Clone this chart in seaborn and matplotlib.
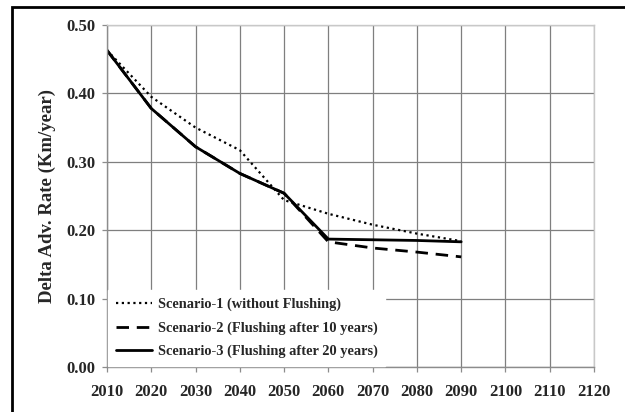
import matplotlib
matplotlib.use("Agg")
import matplotlib.pyplot as plt
import seaborn as sns
import pandas as pd
from matplotlib.patches import Rectangle

years = [2010, 2020, 2030, 2040, 2050, 2060, 2070, 2080, 2090]
scenario1 = [0.463, 0.395, 0.350, 0.317, 0.244, 0.224, 0.208, 0.195, 0.184]
scenario2 = [0.463, 0.378, 0.322, 0.283, 0.254, 0.183, 0.174, 0.168, 0.161]
scenario3 = [0.463, 0.378, 0.322, 0.283, 0.254, 0.187, 0.186, 0.185, 0.183]
labels = ["Scenario-1 (without Flushing)",
          "Scenario-2 (Flushing after 10 years)",
          "Scenario-3 (Flushing after 20 years)"]
x_ticks = list(range(2010, 2121, 10))
y_ticks = [0.0, 0.1, 0.2, 0.3, 0.4, 0.5]
y_label = "Delta Adv. Rate (Km/year)"

sns.set_theme(style="white")
plt.rcParams["font.family"] = ["Liberation Serif", "DejaVu Serif"]
plt.rcParams["font.weight"] = "bold"

fig = plt.figure(figsize=(6.25, 4.12), dpi=100)
ax = fig.add_axes([107/625, 1-367/412, (594-107)/625, (367-25)/412])

styles = [
    dict(linestyle=(0, (1, 1.6)), linewidth=1.6),
    dict(linestyle=(0, (4.5, 2.8)), linewidth=2.0),
    dict(linestyle="-", linewidth=2.0),
]
for vals, lab, st in zip([scenario1, scenario2, scenario3], labels, styles):
    df = pd.DataFrame({"year": years, "rate": vals})
    sns.lineplot(data=df, x="year", y="rate", ax=ax, color="black", label=lab,
                 **st)

ax.set_xlim(2010, 2120)
ax.set_ylim(0, 0.5)
ax.set_xticks(x_ticks)
ax.set_yticks(y_ticks)
ax.set_xticklabels([str(t) for t in x_ticks], fontsize=12, fontweight="bold")
ax.set_yticklabels([f"{t:.2f}" for t in y_ticks], fontsize=12, fontweight="bold")
ax.set_xlabel("")
ax.set_ylabel(y_label, fontsize=13.5, fontweight="bold", labelpad=7)
ax.grid(True, color="#7f7f7f", linewidth=0.9)
ax.set_axisbelow(True)
for side in ["top", "right"]:
    ax.spines[side].set_color("#c8c8c8")
for side in ["left", "bottom"]:
    ax.spines[side].set_color("#8c8c8c")
for sp in ax.spines.values():
    sp.set_linewidth(1.0)
ax.tick_params(axis="both", which="both", direction="out", length=3.5,
               width=0.9, color="#8c8c8c")
ax.tick_params(axis="x", bottom=True, pad=9)
ax.tick_params(axis="y", left=True, pad=5)

leg = ax.legend(loc="lower left", bbox_to_anchor=(0.0, 0.0), frameon=True,
                fancybox=False, framealpha=1.0, edgecolor="white",
                prop={"family": "Liberation Serif", "weight": "bold", "size": 10.4},
                handlelength=2.5, handletextpad=0.45, borderaxespad=0.1,
                labelspacing=0.7, borderpad=0.5)

# outer chart border (left and top visible)
fig.patches.append(Rectangle((12/625, -0.1), 1.2, 1.1 - 7/412,
                             transform=fig.transFigure, fill=False,
                             edgecolor="black", linewidth=2.0))

fig.savefig("out.png", dpi=100)
